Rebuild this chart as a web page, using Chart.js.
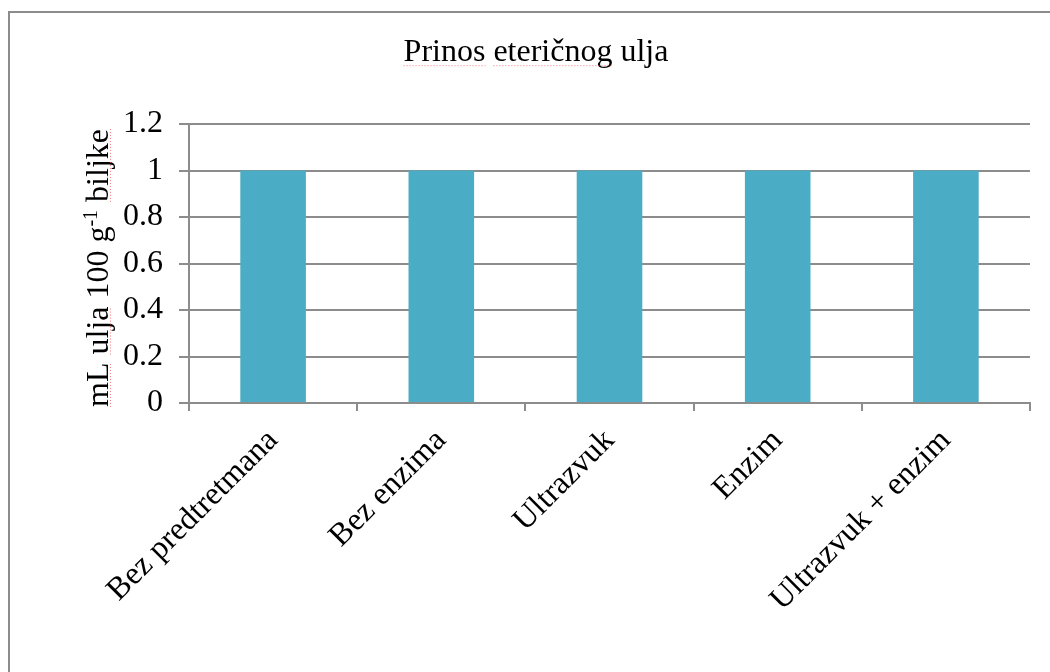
<!DOCTYPE html>
<html><head><meta charset="utf-8">
<script src="https://cdn.jsdelivr.net/npm/chart.js@4.4.0/dist/chart.umd.min.js"></script>
<style>html,body{margin:0;padding:0;background:#fff;overflow:hidden}#wrap{width:1050px;height:672px;position:relative}</style>
</head><body><div id="wrap"><canvas id="c" width="1050" height="672"></canvas></div>
<script>
const categories = ['Bez predtretmana', 'Bez enzima', 'Ultrazvuk', 'Enzim', 'Ultrazvuk + enzim'];
const yieldValues = [1, 1, 1, 1, 1];
const yTickValues = [0, 0.2, 0.4, 0.6, 0.8, 1, 1.2];
const chartTitle = 'Prinos eteričnog ulja';
const yTitleParts = [['mL ulja 100 g', false], ['-1', true], [' biljke', false]];

const FONT = "'Liberation Serif', 'Times New Roman', serif";
const GRAY = '#8c8c8c';

function dotted(ctx, x1, y1, x2, y2) {
  ctx.save();
  ctx.strokeStyle = 'rgba(240,80,80,0.75)';
  ctx.lineWidth = 1;
  ctx.setLineDash([1, 2]);
  ctx.beginPath(); ctx.moveTo(x1, y1); ctx.lineTo(x2, y2); ctx.stroke();
  ctx.restore();
}

const decor = {
  id: 'decor',
  beforeDraw(chart) {
    const ctx = chart.ctx;
    ctx.save();
    ctx.strokeStyle = GRAY; ctx.lineWidth = 2;
    ctx.strokeRect(9, 12, 1200, 1000);
    ctx.restore();
  },
  afterDraw(chart) {
    const ctx = chart.ctx;
    ctx.save();
    const big = '32px ' + FONT, small = '20px ' + FONT;
    let total = 0;
    const widths = yTitleParts.map(([t, sup]) => { ctx.font = sup ? small : big; const w = ctx.measureText(t).width; total += w; return w; });
    const cy = 268, bx = 108;
    ctx.translate(bx, cy);
    ctx.rotate(-Math.PI / 2);
    ctx.fillStyle = '#000';
    ctx.textBaseline = 'alphabetic';
    ctx.textAlign = 'left';
    let x = -total / 2;
    const starts = [];
    yTitleParts.forEach(([t, sup], i) => {
      ctx.font = sup ? small : big;
      starts.push(x);
      ctx.fillText(t, x, sup ? -11 : 0);
      x += widths[i];
    });
    ctx.font = big;
    const s0 = starts[0];
    const wmL = ctx.measureText('mL').width;
    const wPre = ctx.measureText('mL ').width;
    const wUlja = ctx.measureText('ulja').width;
    const s2 = starts[2] + ctx.measureText(' ').width;
    const wBil = ctx.measureText('biljke').width;
    ctx.restore();
    const line = (u1, u2) => dotted(ctx, bx + 2.5, cy - u1, bx + 2.5, cy - u2);
    line(s0, s0 + wmL);
    line(s0 + wPre, s0 + wPre + wUlja);
    line(s2, s2 + wBil);
    const tb = chart.titleBlock;
    ctx.save();
    ctx.font = big;
    const tw = ctx.measureText(chartTitle).width;
    const tx0 = (tb.left + tb.right) / 2 - tw / 2;
    const ty = tb.top + tb.options.padding.top + 19.2 + 13.5;
    const wP = ctx.measureText('Prinos').width;
    const wSp = ctx.measureText('Prinos ').width;
    const wE = ctx.measureText('eteričnog').width;
    ctx.restore();
    dotted(ctx, tx0, ty, tx0 + wP, ty);
    dotted(ctx, tx0 + wSp, ty, tx0 + wSp + wE, ty);
  }
};

new Chart(document.getElementById('c'), {
  type: 'bar',
  data: {
    labels: categories,
    datasets: [{
      data: yieldValues,
      backgroundColor: '#4BACC6',
      borderWidth: 0,
      barPercentage: 0.39,
      categoryPercentage: 1
    }]
  },
  options: {
    responsive: false,
    devicePixelRatio: 1,
    animation: false,
    layout: { padding: { left: 42, right: 20, top: 0, bottom: 0 } },
    plugins: {
      legend: { display: false },
      tooltip: { enabled: false },
      title: {
        display: true,
        text: chartTitle,
        color: '#000',
        font: { family: FONT, size: 32, weight: 'normal' },
        padding: { top: 33, bottom: 52.6 }
      }
    },
    scales: {
      x: {
        offset: true,
        afterFit: s => { s.height = 269; },
        grid: { display: true, drawOnChartArea: false, drawTicks: true, tickLength: 8, offset: true, color: GRAY, lineWidth: 2 },
        border: { display: true, color: GRAY, width: 2 },
        ticks: { color: '#000', font: { family: FONT, size: 32 }, minRotation: 45, maxRotation: 45, autoSkip: false, padding: 11 }
      },
      y: {
        min: 0, max: 1.2,
        afterFit: s => { s.width = 147; },
        afterBuildTicks: s => { s.ticks = yTickValues.map(v => ({ value: v })); },
        grid: { color: GRAY, lineWidth: 2, tickLength: 10, drawTicks: true },
        border: { display: true, color: GRAY, width: 2 },
        ticks: { color: '#000', font: { family: FONT, size: 32 }, padding: 16, callback: v => String(v) }
      }
    }
  },
  plugins: [decor]
});
</script></body></html>
